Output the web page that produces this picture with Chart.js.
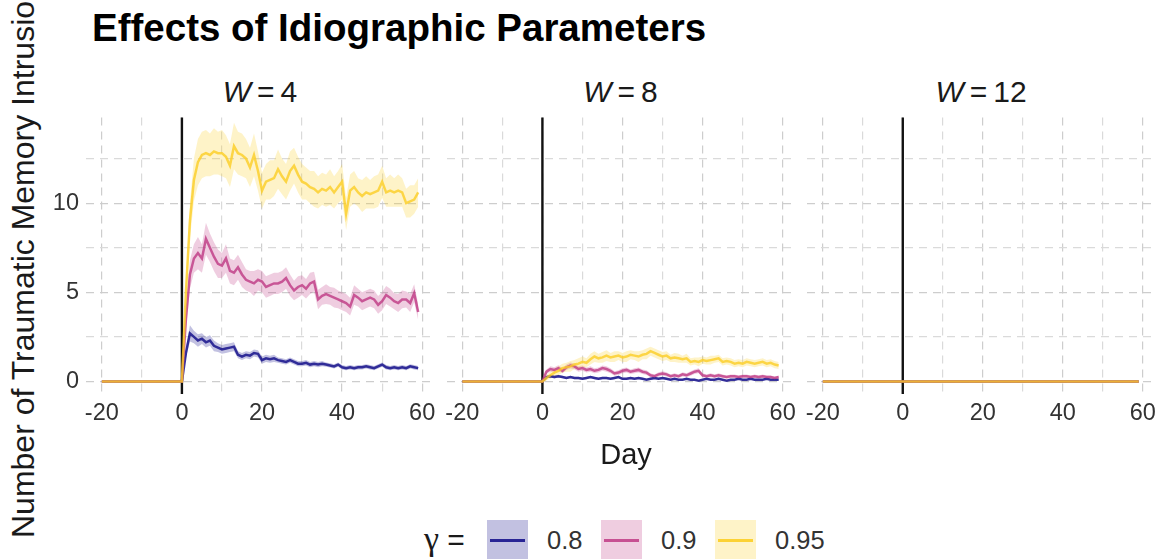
<!DOCTYPE html>
<html>
<head>
<meta charset="utf-8">
<script src="https://cdn.jsdelivr.net/npm/chart.js@4.4.1/dist/chart.umd.min.js"></script>
<style>
  html, body { margin: 0; padding: 0; background: #fff; }
  body { width: 1168px; height: 559px; position: relative; overflow: hidden; font-family: "Liberation Sans", Arial, sans-serif; }
  canvas { position: absolute; }
  #title { position: absolute; left: 92px; top: 6px; font-size: 38.5px; font-weight: bold; color: #000; white-space: nowrap; }
  .strip { position: absolute; top: 72px; width: 348px; font-size: 30px; line-height: 40px; color: #1a1a1a; text-align: center; white-space: nowrap; }
  .strip span { margin: 0 6px; }
  #ylab { position: absolute; left: 6px; top: 538px; transform-origin: 0 0; transform: rotate(-90deg); font-size: 32px; line-height: 34px; white-space: nowrap; color: #1a1a1a; }
  #xlab { position: absolute; left: 526px; width: 200px; top: 436px; text-align: center; font-size: 29px; line-height: 36px; color: #1a1a1a; }
  .key { position: absolute; top: 520px; width: 41px; height: 41px; }
  .key i { position: absolute; left: 3px; right: 3px; top: 19px; height: 2.5px; }
  .klab { position: absolute; top: 525px; font-size: 25.5px; line-height: 30px; color: #333; }
  #gam { position: absolute; left: 424px; top: 522px; font-size: 30px; line-height: 34px; color: #1a1a1a; }
  #gam b { font-family: "Liberation Serif", "DejaVu Serif", serif; font-weight: normal; font-size: 34px; }
</style>
</head>
<body>
<div id="title">Effects of Idiographic Parameters</div>
<div id="ylab">Number of Traumatic Memory Intrusions</div>
<div class="strip" style="left:86px"><i>W</i><span>=</span>4</div>
<div class="strip" style="left:446.5px"><i>W</i><span>=</span>8</div>
<div class="strip" style="left:807px"><i>W</i><span>=</span>12</div>
<canvas id="p1" width="450" height="330" style="left:0px;top:110px"></canvas>
<canvas id="p2" width="370" height="330" style="left:440px;top:110px"></canvas>
<canvas id="p3" width="368" height="330" style="left:800px;top:110px"></canvas>
<div id="xlab">Day</div>
<div id="gam"><b>γ</b> =</div>
<div class="key" style="left:487px;background:rgba(13,8,135,0.25)"><i style="background:rgba(13,8,135,0.85)"></i></div>
<div class="klab" style="left:547px">0.8</div>
<div class="key" style="left:601px;background:rgba(191,57,132,0.25)"><i style="background:rgba(191,57,132,0.85)"></i></div>
<div class="klab" style="left:661px">0.9</div>
<div class="key" style="left:715px;background:rgba(252,206,37,0.25)"><i style="background:rgba(252,206,37,0.9)"></i></div>
<div class="klab" style="left:775px">0.95</div>
<script>
// days -20 .. 59
const days = [-20,-19,-18,-17,-16,-15,-14,-13,-12,-11,-10,-9,-8,-7,-6,-5,-4,-3,-2,-1,
  0,1,2,3,4,5,6,7,8,9,10,11,12,13,14,15,16,17,18,19,
  20,21,22,23,24,25,26,27,28,29,30,31,32,33,34,35,36,37,38,39,
  40,41,42,43,44,45,46,47,48,49,50,51,52,53,54,55,56,57,58,59];
// before day 0 every series sits at 0
const lead = [0,0,0,0,0,0,0,0,0,0,0,0,0,0,0,0,0,0,0,0];

const gammaLevels = ['0.8', '0.9', '0.95'];
const panelNames = ['W = 4', 'W = 8', 'W = 12'];
const eventDay = 0;

const xGrid = [-20, -10, 0, 10, 20, 30, 40, 50, 60];
const xLabels = [-20, 0, 20, 40, 60];
const yGrid = [0, 2.5, 5, 7.5, 10, 12.5];
const yLabels = [0, 5, 10];

// W = 4, days 0..59
const w4Blue = [0, 1.6, 2.7, 2.5, 2.3, 2.4, 2.2, 2.3, 2.0, 1.9,
  1.8, 1.85, 1.9, 1.95, 1.5, 1.4, 1.5, 1.45, 1.6, 1.55,
  1.2, 1.3, 1.25, 1.3, 1.2, 1.15, 1.1, 1.2, 1.1, 1.0,
  1.0, 1.05, 0.95, 1.0, 0.95, 1.0, 0.95, 0.9, 0.85, 0.95,
  0.8, 0.75, 0.8, 0.75, 0.8, 0.8, 0.85, 0.8, 0.75, 0.85,
  0.95, 0.8, 0.75, 0.8, 0.75, 0.8, 0.75, 0.85, 0.8, 0.75];
const w4BlueSe = [0, 0.3, 0.45, 0.35, 0.35, 0.3, 0.3, 0.3, 0.3, 0.25,
  0.25, 0.25, 0.25, 0.25, 0.2, 0.2, 0.2, 0.2, 0.2, 0.2,
  0.2, 0.2, 0.2, 0.2, 0.15, 0.15, 0.15, 0.15, 0.15, 0.15,
  0.15, 0.15, 0.15, 0.15, 0.15, 0.15, 0.12, 0.12, 0.12, 0.12,
  0.12, 0.12, 0.12, 0.12, 0.12, 0.12, 0.12, 0.12, 0.12, 0.12,
  0.12, 0.12, 0.12, 0.12, 0.12, 0.12, 0.12, 0.12, 0.12, 0.12];
const w4Pink = [0, 3.5, 6.0, 6.9, 7.2, 6.9, 8.0, 7.5, 7.0, 6.6,
  6.5, 6.9, 6.2, 6.1, 6.4, 6.0, 5.7, 5.6, 5.5, 5.7,
  5.6, 5.3, 5.4, 5.5, 5.5, 5.6, 5.8, 5.4, 5.1, 5.3,
  5.4, 5.2, 5.5, 5.6, 4.6, 4.8, 4.9, 4.8, 4.7, 4.6,
  4.5, 4.4, 4.2, 4.85, 4.7, 4.5, 4.6, 4.7, 4.6, 4.3,
  4.5, 4.85, 4.7, 4.5, 4.4, 4.6, 4.6, 4.4, 4.95, 3.9];
const w4PinkSe = [0, 0.6, 0.8, 0.8, 0.9, 0.8, 0.9, 0.8, 0.8, 0.8,
  0.7, 0.8, 0.7, 0.7, 0.7, 0.7, 0.6, 0.6, 0.7, 0.6,
  0.6, 0.6, 0.6, 0.6, 0.6, 0.6, 0.6, 0.6, 0.55, 0.6,
  0.55, 0.55, 0.6, 0.55, 0.55, 0.5, 0.55, 0.5, 0.55, 0.5,
  0.5, 0.5, 0.5, 0.55, 0.5, 0.5, 0.5, 0.5, 0.5, 0.5,
  0.5, 0.5, 0.5, 0.45, 0.5, 0.5, 0.45, 0.5, 0.5, 0.45];
const w4Yellow = [0, 5.0, 9.0, 11.3, 12.3, 12.7, 12.8, 12.7, 12.9, 12.8,
  12.8, 12.6, 12.1, 13.2, 12.8, 12.7, 12.5, 12.0, 12.7, 11.8,
  10.7, 11.2, 11.3, 11.4, 11.9, 11.5, 11.2, 11.8, 12.1, 11.6,
  11.2, 11.1, 10.9, 10.8, 10.6, 10.8, 10.7, 10.9, 10.6, 10.9,
  11.2, 9.4, 10.7, 10.9, 10.6, 10.4, 10.6, 10.5, 10.6, 10.7,
  11.2, 10.6, 10.7, 10.6, 10.7, 10.6, 10.0, 10.1, 10.2, 10.6];
const w4YellowSe = [0, 0.8, 1.0, 1.2, 1.3, 1.3, 1.3, 1.2, 1.3, 1.2,
  1.3, 1.2, 1.2, 1.3, 1.2, 1.2, 1.1, 1.1, 1.2, 1.1,
  1.0, 1.0, 1.1, 1.0, 1.1, 1.0, 1.0, 1.1, 1.0, 1.0,
  1.0, 0.9, 0.9, 1.0, 0.9, 0.9, 0.9, 1.0, 0.9, 0.9,
  1.0, 0.9, 0.9, 0.9, 0.8, 0.9, 0.9, 0.8, 0.9, 0.9,
  0.9, 0.8, 0.9, 0.8, 0.9, 0.8, 0.8, 0.9, 0.8, 0.8];

// W = 8, days 0..59
const w8Blue = [0, 0.25, 0.3, 0.25, 0.3, 0.25, 0.2, 0.25, 0.2, 0.2,
  0.15, 0.2, 0.25, 0.2, 0.15, 0.2, 0.2, 0.15, 0.2, 0.25,
  0.15, 0.15, 0.2, 0.15, 0.2, 0.15, 0.1, 0.15, 0.2, 0.15,
  0.2, 0.15, 0.1, 0.15, 0.1, 0.1, 0.15, 0.1, 0.1, 0.05,
  0.1, 0.15, 0.1, 0.1, 0.15, 0.1, 0.05, 0.1, 0.1, 0.15,
  0.1, 0.1, 0.15, 0.1, 0.1, 0.1, 0.15, 0.1, 0.1, 0.1];
const w8BlueSe = [0, 0.06, 0.08, 0.08, 0.08, 0.07, 0.07, 0.07, 0.07, 0.07,
  0.07, 0.07, 0.07, 0.07, 0.06, 0.07, 0.07, 0.06, 0.07, 0.07,
  0.06, 0.06, 0.07, 0.06, 0.07, 0.06, 0.05, 0.06, 0.07, 0.06,
  0.07, 0.06, 0.05, 0.06, 0.05, 0.05, 0.06, 0.05, 0.05, 0.04,
  0.05, 0.06, 0.05, 0.05, 0.06, 0.05, 0.04, 0.05, 0.05, 0.06,
  0.05, 0.05, 0.06, 0.05, 0.05, 0.05, 0.06, 0.05, 0.05, 0.05];
const w8Pink = [0, 0.55, 0.7, 0.65, 0.75, 0.6, 0.8, 0.9, 0.85, 0.7,
  0.75, 0.65, 0.7, 0.6, 0.65, 0.75, 0.7, 0.6, 0.45, 0.5,
  0.6, 0.65, 0.55, 0.6, 0.65, 0.55, 0.5, 0.35, 0.3, 0.4,
  0.45, 0.4, 0.3, 0.35, 0.3, 0.4, 0.35, 0.45, 0.55, 0.6,
  0.35, 0.3, 0.35, 0.3, 0.35, 0.3, 0.25, 0.3, 0.3, 0.25,
  0.3, 0.3, 0.25, 0.3, 0.25, 0.3, 0.25, 0.25, 0.2, 0.25];
const w8PinkSe = [0, 0.12, 0.15, 0.15, 0.16, 0.14, 0.16, 0.17, 0.16, 0.15,
  0.15, 0.14, 0.15, 0.14, 0.14, 0.15, 0.15, 0.14, 0.12, 0.13,
  0.14, 0.14, 0.13, 0.14, 0.14, 0.13, 0.13, 0.11, 0.1, 0.12,
  0.12, 0.12, 0.1, 0.11, 0.1, 0.12, 0.11, 0.12, 0.13, 0.14,
  0.11, 0.1, 0.11, 0.1, 0.11, 0.1, 0.09, 0.1, 0.1, 0.09,
  0.1, 0.1, 0.09, 0.1, 0.09, 0.1, 0.09, 0.09, 0.08, 0.09];
const w8Yellow = [0, 0.2, 0.35, 0.5, 0.6, 0.75, 0.8, 0.85, 0.95, 1.0,
  1.1, 1.05, 1.25, 1.4, 1.3, 1.35, 1.45, 1.35, 1.4, 1.45,
  1.35, 1.4, 1.5, 1.45, 1.4, 1.5, 1.55, 1.7, 1.6, 1.5,
  1.4, 1.45, 1.3, 1.35, 1.3, 1.25, 1.3, 1.1, 1.15, 1.1,
  1.2, 1.15, 1.2, 1.25, 1.3, 1.1, 1.15, 1.1, 1.0, 1.05,
  1.0, 1.1, 1.05, 1.0, 1.05, 1.1, 1.0, 1.05, 0.95, 0.9];
const w8YellowSe = [0, 0.15, 0.2, 0.2, 0.25, 0.25, 0.25, 0.3, 0.25, 0.3,
  0.3, 0.25, 0.3, 0.3, 0.25, 0.3, 0.3, 0.25, 0.3, 0.25,
  0.25, 0.3, 0.25, 0.25, 0.3, 0.25, 0.3, 0.25, 0.25, 0.25,
  0.25, 0.25, 0.2, 0.25, 0.25, 0.2, 0.25, 0.2, 0.2, 0.25,
  0.2, 0.2, 0.25, 0.2, 0.2, 0.2, 0.2, 0.2, 0.2, 0.2,
  0.2, 0.2, 0.2, 0.2, 0.2, 0.2, 0.2, 0.2, 0.2, 0.2];

// W = 12: no intrusions at any gamma
const w12Flat = [0,0,0,0,0,0,0,0,0,0, 0,0,0,0,0,0,0,0,0,0,
  0,0,0,0,0,0,0,0,0,0, 0,0,0,0,0,0,0,0,0,0,
  0,0,0,0,0,0,0,0,0,0, 0,0,0,0,0,0,0,0,0,0];

const lineColors = ['rgba(13,8,135,0.8)', 'rgba(191,57,132,0.8)', 'rgba(252,206,37,0.8)'];
const ribbonColors = ['rgba(13,8,135,0.25)', 'rgba(191,57,132,0.25)', 'rgba(252,206,37,0.25)'];
const fontFamily = '"Liberation Sans", Arial, sans-serif';

const eventLine = {
    id: 'eventLine',
    beforeDatasetsDraw(chart) {
        const x = chart.scales.x.getPixelForValue(eventDay);
        const area = chart.chartArea;
        const ctx = chart.ctx;
        ctx.save();
        ctx.strokeStyle = '#111';
        ctx.lineWidth = 2.4;
        ctx.beginPath();
        ctx.moveTo(x, area.top);
        ctx.lineTo(x, area.bottom);
        ctx.stroke();
        ctx.restore();
    }
};

function makePanel(id, series, showY, yWidth, padRight) {
    const datasets = [];
    // ribbons first (blue, pink, yellow), then lines on top
    series.forEach((s, i) => {
        const mean = lead.concat(s.mean);
        const se = lead.concat(s.se);
        datasets.push({
            label: gammaLevels[i] + ' lower',
            data: days.map((d, k) => ({ x: d, y: mean[k] - se[k] })),
            borderWidth: 0, pointRadius: 0, fill: false, order: 20 - 2 * i
        });
        datasets.push({
            label: gammaLevels[i] + ' upper',
            data: days.map((d, k) => ({ x: d, y: mean[k] + se[k] })),
            borderWidth: 0, pointRadius: 0, fill: '-1',
            backgroundColor: ribbonColors[i], order: 19 - 2 * i
        });
    });
    series.forEach((s, i) => {
        const mean = lead.concat(s.mean);
        datasets.push({
            label: gammaLevels[i],
            data: days.map((d, k) => ({ x: d, y: mean[k] })),
            borderColor: lineColors[i], borderWidth: 2.5, pointRadius: 0,
            fill: false, tension: 0, order: 3 - i
        });
    });

    const gridColor = labels => ctx => {
        const v = ctx.tick ? ctx.tick.value : null;
        return labels.includes(v) ? '#cdcdcd' : '#dadada';
    };

    new Chart(document.getElementById(id), {
        type: 'line',
        data: { datasets: datasets },
        options: {
            responsive: false,
            animation: false,
            events: [],
            layout: { padding: { top: 7.5, right: padRight, left: 0, bottom: 0 } },
            plugins: { legend: { display: false }, tooltip: { enabled: false } },
            scales: {
                x: {
                    type: 'linear', min: -23.95, max: 62.95,
                    afterBuildTicks: s => { s.ticks = xGrid.map(v => ({ value: v })); },
                    afterFit: s => { s.height = 46; s.paddingLeft = 0; s.paddingRight = 0; },
                    ticks: {
                        autoSkip: false, maxRotation: 0, padding: 5,
                        callback: v => xLabels.includes(v) ? String(v) : '',
                        font: { size: 23.5, family: fontFamily }, color: '#333'
                    },
                    grid: { drawTicks: false, color: gridColor(xLabels), lineWidth: 1.2 },
                    border: { display: false, dash: [8, 6] }
                },
                y: {
                    min: -0.7, max: 14.8,
                    afterBuildTicks: s => { s.ticks = yGrid.map(v => ({ value: v })); },
                    afterFit: s => { s.width = yWidth; s.paddingTop = 0; s.paddingBottom = 0; },
                    ticks: {
                        display: showY, padding: 7,
                        callback: v => yLabels.includes(v) ? String(v) : '',
                        font: { size: 23.5, family: fontFamily }, color: '#333'
                    },
                    grid: { drawTicks: false, color: gridColor(yLabels), lineWidth: 1.2 },
                    border: { display: false, dash: [8, 6] }
                }
            }
        },
        plugins: [eventLine]
    });
}

makePanel('p1', [
    { mean: w4Blue, se: w4BlueSe },
    { mean: w4Pink, se: w4PinkSe },
    { mean: w4Yellow, se: w4YellowSe }
], true, 86, 16);

makePanel('p2', [
    { mean: w8Blue, se: w8BlueSe },
    { mean: w8Pink, se: w8PinkSe },
    { mean: w8Yellow, se: w8YellowSe }
], false, 6.5, 15.5);

makePanel('p3', [
    { mean: w12Flat, se: w12Flat },
    { mean: w12Flat, se: w12Flat },
    { mean: w12Flat, se: w12Flat }
], false, 7, 13.5);
</script>
</body>
</html>
